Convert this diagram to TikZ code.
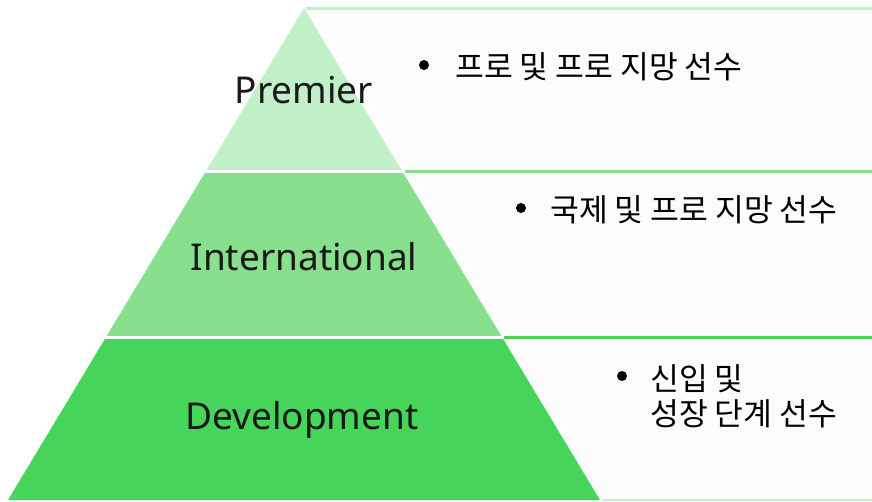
\documentclass[tikz,border=0pt]{standalone}
\usepackage{fontspec}
\setmainfont{Noto Sans}
\newfontfamily\krfont{Noto Sans CJK KR}
\usetikzlibrary{calc}
\definecolor{tierTop}{HTML}{C1F0C8}
\definecolor{tierMid}{HTML}{88E08F}
\definecolor{tierLow}{HTML}{47D45A}
\definecolor{panelfill}{HTML}{FCFCFC}
\tikzset{
  tier/.style={
    font=\fontsize{37}{40}\selectfont,
    text=black!90
  },
  note/.style={
    font=\krfont\fontsize{31.3}{35}\selectfont,
    anchor=west,
    align=left,
    inner sep=0pt
  },
  dot/.style={circle, fill=black, inner sep=0pt, minimum size=10pt},
  rim/.style={line width=3pt}
}

\begin{document}
\begin{tikzpicture}[x=1pt, y=-1pt]
    \useasboundingbox (0,0) rectangle (872,502);
    \coordinate (apex) at (304,8);
    \coordinate (baseL) at (8,500);
    \coordinate (baseR) at (600,500);
    % panels on the right
    \fill[panelfill] (307,8) -- (872,8) -- (872,500) -- (603,500) -- cycle;
    \draw[rim, tierTop] (306,9) -- (872,9);
    \draw[rim, tierMid] (405,172) -- (872,172);
    \draw[rim, tierLow] (504,337) -- (872,337);
    \draw[line width=2pt, tierTop] (603,500) -- (872,500);
    % pyramid
    \begin{scope}
        \clip (apex) -- (baseL) -- (baseR) -- cycle;
        \fill[tierTop] (0,0) rectangle (872,172);
        \fill[tierMid] (0,172) rectangle (872,337);
        \fill[tierLow] (0,337) rectangle (872,502);
        \draw[rim, white] (0,172) -- (872,172);
        \draw[rim, white] (0,337) -- (872,337);
    \end{scope}
    \node[tier] (premier) at (304,90) {Premier};
    \node[tier] (intl) at (304,257) {International};
    \node[tier] (devel) at (302,420) {Development};
    \node[dot] (dotA) at (424,65) {};
    \node[note] (noteA) at (455,67) {프로 및 프로 지망 선수};
    \node[dot] (dotB) at (521,208) {};
    \node[note] (noteB) at (550,210) {국제 및 프로 지망 선수};
    \node[dot] (dotC) at (622,376) {};
    \node[note] (noteC) at (650,396) {신입 및\\성장 단계 선수};
\end{tikzpicture}
\end{document}
